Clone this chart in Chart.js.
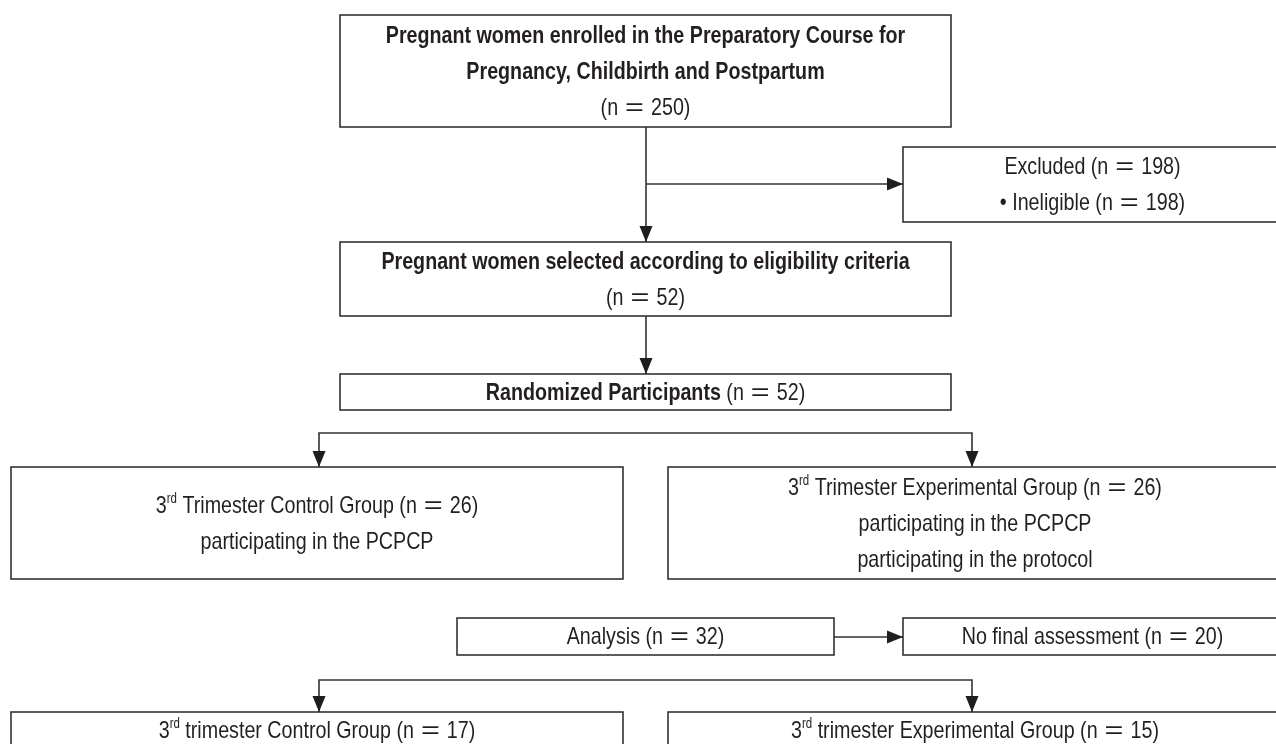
<!DOCTYPE html>
<html>
<head>
<meta charset="utf-8">
<script src="https://cdn.jsdelivr.net/npm/chart.js@4.4.1/dist/chart.umd.min.js"></script>
<style>
  html, body { margin: 0; padding: 0; background: #fff; }
  #wrap { width: 1276px; height: 744px; }
</style>
</head>
<body>
<div id="wrap"><canvas id="flow" width="1276" height="744"></canvas></div>
<script>
// box texts, **bold**, ^superscript^, {0} {1} = counts of that box
const boxText = [
    ['**Pregnant women enrolled in the Preparatory Course for**', '**Pregnancy, Childbirth and Postpartum**', '(n = {0})'],
    ['Excluded (n = {0})', '\u2022 Ineligible (n = {1})'],
    ['**Pregnant women selected according to eligibility criteria**', '(n = {0})'],
    ['**Randomized Participants** (n = {0})'],
    ['3^rd^ Trimester Control Group (n = {0})', 'participating in the PCPCP'],
    ['3^rd^ Trimester Experimental Group (n = {0})', 'participating in the PCPCP', 'participating in the protocol'],
    ['Analysis (n = {0})'],
    ['No final assessment (n = {0})'],
    ['3^rd^ trimester Control Group (n = {0})'],
    ['3^rd^ trimester Experimental Group (n = {0})']
];
const boxCounts = [[250], [198, 198], [52], [52], [26], [26], [32], [20], [17], [15]];

// layout in chart units (x 0..1276, y 0..744 top down)
const boxRects = [
    [340, 15, 951, 127],
    [903, 147, 1282, 222],
    [340, 242, 951, 316],
    [340, 374, 951, 410],
    [11, 467, 623, 579],
    [668, 467, 1282, 579],
    [457, 618, 834, 655],
    [903, 618, 1282, 655],
    [11, 712, 623, 748],
    [668, 712, 1282, 748]
];
const links = [
    [[646, 127], [646, 242]],
    [[646, 184], [903, 184]],
    [[646, 316], [646, 374]],
    [[646, 433], [319, 433], [319, 467]],
    [[646, 433], [972, 433], [972, 467]],
    [[834, 637], [903, 637]],
    [[646, 680], [319, 680], [319, 712]],
    [[646, 680], [972, 680], [972, 712]]
];

// no narrow face installed, so squeeze Liberation Sans like a condensed cut
const FONT = "'Liberation Sans', Arial, sans-serif";
const squeeze = 0.82;
const lineGap = 36;
const inkColor = '#231f20';
const edgeColor = '#333333';

function parseRuns(line, counts) {
    const filled = line.replace(/\{(\d)\}/g, (m, k) => counts[k]);
    return filled.split(/(\*\*.*?\*\*|\^.*?\^| = )/).filter(s => s).map(s => {
        if (s.startsWith('**')) return { t: s.slice(2, -2), kind: 'bold' };
        if (s.startsWith('^')) return { t: s.slice(1, -1), kind: 'sup' };
        if (s === ' = ') return { t: '=', kind: 'eq' };
        return { t: s, kind: 'normal' };
    });
}

function runFont(kind) {
    if (kind === 'bold') return 'bold 24px ' + FONT;
    if (kind === 'sup') return '14px ' + FONT;
    return '24px ' + FONT;
}

function drawLine(ctx, runs, cx, cy) {
    const pad = 7;
    let total = 0;
    runs.forEach(r => {
        ctx.font = runFont(r.kind);
        r.sx = r.kind === 'eq' ? 1.35 : squeeze;
        r.pad = r.kind === 'eq' ? pad : 0;
        r.w = ctx.measureText(r.t).width * r.sx + 2 * r.pad;
        total += r.w;
    });
    let px = cx - total / 2;
    runs.forEach(r => {
        ctx.font = runFont(r.kind);
        ctx.save();
        ctx.translate(px + r.pad, r.kind === 'sup' ? cy - 7 : cy);
        ctx.scale(r.sx, 1);
        ctx.fillText(r.t, 0, 0);
        ctx.restore();
        px += r.w;
    });
}

const flowPlugin = {
    id: 'flowBoxes',
    afterDatasetsDraw(chart) {
        const { ctx, scales: { x, y } } = chart;
        ctx.save();
        ctx.lineWidth = 1.6;
        ctx.strokeStyle = edgeColor;
        ctx.fillStyle = inkColor;
        ctx.textBaseline = 'middle';
        ctx.textAlign = 'left';
        boxRects.forEach((r, i) => {
            const x0 = x.getPixelForValue(r[0]), x1 = x.getPixelForValue(r[2]);
            const y0 = y.getPixelForValue(r[1]), y1 = y.getPixelForValue(r[3]);
            ctx.strokeRect(x0, y0, x1 - x0, y1 - y0);
            const lines = boxText[i];
            const cx = (x0 + x1) / 2, cy = (y0 + y1) / 2;
            lines.forEach((ln, k) => {
                const ly = cy + (k - (lines.length - 1) / 2) * lineGap;
                drawLine(ctx, parseRuns(ln, boxCounts[i]), cx, ly + 1);
            });
        });
        // arrow heads at the end of every link
        ctx.fillStyle = '#1e1e1e';
        chart.data.datasets.forEach(ds => {
            const n = ds.data.length;
            const a = ds.data[n - 2], b = ds.data[n - 1];
            const ax = x.getPixelForValue(a.x), ay = y.getPixelForValue(a.y);
            const bx = x.getPixelForValue(b.x), by = y.getPixelForValue(b.y);
            const ang = Math.atan2(by - ay, bx - ax);
            const len = 16, half = 6.5;
            ctx.beginPath();
            ctx.moveTo(bx, by);
            ctx.lineTo(bx - len * Math.cos(ang) - half * Math.sin(ang), by - len * Math.sin(ang) + half * Math.cos(ang));
            ctx.lineTo(bx - len * Math.cos(ang) + half * Math.sin(ang), by - len * Math.sin(ang) - half * Math.cos(ang));
            ctx.closePath();
            ctx.fill();
        });
        ctx.restore();
    }
};

new Chart(document.getElementById('flow'), {
    type: 'scatter',
    data: {
        datasets: links.map(pts => ({
            data: pts.map(p => ({ x: p[0], y: p[1] })),
            showLine: true,
            borderColor: edgeColor,
            borderWidth: 1.6,
            pointRadius: 0,
            tension: 0
        }))
    },
    options: {
        responsive: false,
        animation: false,
        events: [],
        layout: { padding: 0 },
        plugins: { legend: { display: false }, tooltip: { enabled: false } },
        scales: {
            x: { type: 'linear', min: 0, max: 1276, display: false },
            y: { type: 'linear', min: 0, max: 744, reverse: true, display: false }
        }
    },
    plugins: [flowPlugin]
});
</script>
</body>
</html>
